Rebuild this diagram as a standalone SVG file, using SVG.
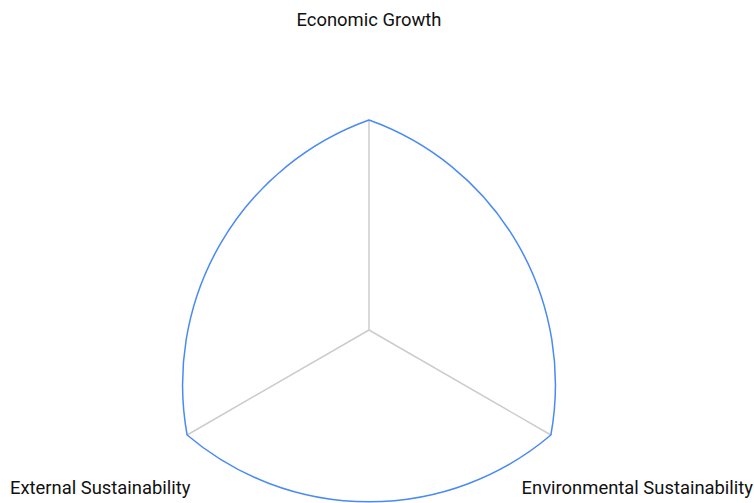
<svg xmlns="http://www.w3.org/2000/svg" width="754" height="503" viewBox="0 0 754 503">
<style>
.axis{stroke:#cccccc;stroke-width:1.5;fill:none}
.area{stroke:#4a8af4;stroke-width:1.5;fill:none}
.lbl{font-family:Roboto,"Liberation Sans",sans-serif;font-size:18.4px;fill:#111111}
</style>
<rect width="754" height="503" fill="#ffffff"/>
<g id="connectors">
<line class="axis" x1="369" y1="330" x2="369" y2="120"/>
<line class="axis" x1="369" y1="330" x2="550.87" y2="435"/>
<line class="axis" x1="369" y1="330" x2="187.13" y2="435"/>
</g>
<g id="area">
<path class="area" d="M369,120 A281,281 0 0,1 550.87,435 A281,281 0 0,1 187.13,435 A281,281 0 0,1 369,120 Z"/>
</g>
<g id="node-economic"><text class="lbl" x="369" y="26" text-anchor="middle">Economic Growth</text></g>
<g id="node-external"><text class="lbl" x="10" y="494">External Sustainability</text></g>
<g id="node-environmental"><text class="lbl" x="753" y="494" text-anchor="end">Environmental Sustainability</text></g>
</svg>
